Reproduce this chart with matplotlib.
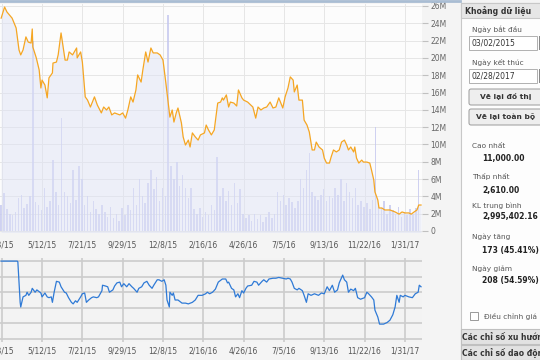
import numpy as np
import pandas as pd
import matplotlib.pyplot as plt
from matplotlib.patches import Rectangle, FancyBboxPatch

start = pd.Timestamp('2015-03-02')

# closing price (day offset from start, price)
price_day = [0, 6, 10, 19, 26, 31, 34, 38, 43, 47, 52, 54, 55, 61, 66, 69, 71, 76, 80, 83,
             89, 90, 96, 99, 104, 111, 115, 118, 124, 131, 132, 138, 141, 146, 150, 155, 162, 167, 174, 178,
             183, 187, 192, 197, 206, 211, 216, 220, 225, 229, 234, 237, 243, 246, 251, 255, 260, 264, 271, 276,
             281, 286, 290, 293, 297, 300, 304, 307, 313, 316, 320, 325, 328, 332, 337, 342, 346, 353, 356, 360,
             365, 370, 376, 381, 384, 386, 391, 395, 398, 404, 409, 412, 418, 421, 428, 437, 442, 446, 451, 456,
             461, 467, 472, 477, 482, 489, 493, 498, 502, 507, 509, 514, 517, 523, 526, 531, 535, 540, 544, 547,
             552, 558, 561, 565, 570, 573, 577, 582, 587, 591, 596, 600, 603, 607, 612, 614, 617, 621, 626, 629,
             635, 640, 643, 647, 649, 654, 656, 661, 666, 675, 684, 691, 696, 701, 708, 712, 717, 722, 725, 727, 729]
price = [10550, 11000, 10800, 10550, 10150, 9260, 9060, 9260, 9790, 9580, 9540, 10110, 9380, 8940, 8450, 7720, 8040, 7840, 7320, 8130,
         8330, 8730, 8770, 9060, 9950, 8850, 8850, 9180, 9060, 9340, 8940, 9180, 8770, 7360, 7230, 6950, 7360, 7030, 6710, 6950,
         6830, 6950, 6630, 6710, 6630, 6710, 6500, 6830, 7360, 7150, 7640, 8250, 7960, 8450, 9180, 8770, 9340, 9140, 9140, 9060,
         8850, 7920, 7110, 6540, 6830, 6340, 6710, 6910, 6300, 5740, 5410, 5610, 5330, 5900, 5740, 5610, 5820, 5900, 6220, 6020,
         5820, 6020, 7110, 7150, 7320, 7230, 7440, 6950, 7150, 7110, 6990, 7640, 7320, 7230, 7150, 6950, 6500, 6950, 6830, 6910,
         6950, 7150, 6910, 6950, 7320, 6910, 7360, 7720, 8170, 8040, 7560, 7840, 7230, 7230, 6420, 6220, 5940, 5210, 5210, 5530,
         5330, 5210, 4880, 4680, 4680, 4930, 5210, 5130, 5210, 5530, 5610, 5410, 5210, 5330, 5130, 5330, 4880, 4680, 4800, 4720,
         4720, 4680, 4400, 3990, 3510, 3180, 2860, 2860, 2780, 2780, 2700, 2610, 2700, 2660, 2660, 2610, 2700, 2780, 2980, 2980, 2980]

# volume in millions, sampled every 5 days
vol_day = np.arange(0, 730, 5)
volume = [3.0, 4.4, 2.5, 2.0, 1.8, 2.2, 3.8, 4.2, 2.6, 3.1, 4.0, 22.0, 3.3, 3.0, 2.4, 5.0, 2.8, 3.5, 8.2, 4.5,
          3.0, 13.0, 4.5, 4.0, 3.2, 7.0, 3.6, 7.5, 6.0, 3.0, 4.0, 2.2, 3.5, 2.5, 2.0, 3.0, 2.2, 1.6, 2.8, 1.5,
          2.0, 1.2, 2.6, 1.8, 3.0, 2.4, 5.0, 3.0, 6.0, 4.0, 3.2, 5.5, 7.0, 4.8, 6.2, 3.5, 5.0, 4.0, 25.0, 7.5,
          6.0, 8.0, 5.2, 6.5, 5.0, 3.8, 5.0, 2.5, 2.0, 2.6, 1.6, 2.2, 1.8, 3.0, 2.4, 8.5, 4.0, 5.0, 3.5, 4.6,
          3.0, 5.5, 3.2, 4.8, 2.0, 1.5, 1.8, 1.2, 2.0, 1.4, 1.8, 1.0, 1.6, 2.2, 1.5, 2.0, 4.5, 3.5, 4.2, 3.0,
          3.8, 3.4, 2.6, 3.5, 6.0, 5.0, 7.0, 9.0, 4.5, 4.0, 3.6, 4.2, 4.8, 3.5, 4.0, 3.8, 5.0, 4.2, 6.0, 3.5,
          5.5, 4.5, 3.8, 5.0, 3.0, 3.5, 2.8, 3.2, 2.5, 3.6, 12.0, 3.0, 2.6, 3.5, 2.0, 3.0, 2.4, 2.0, 2.8, 1.6,
          2.2, 1.8, 2.5, 2.0, 2.6, 7.0]

# indicator (lower panel)
ind_day = [0, 28, 29, 33, 34, 38, 43, 45, 48, 52, 54, 59, 62, 69, 71, 76, 80, 83, 87, 89,
           92, 96, 101, 104, 110, 113, 117, 122, 125, 129, 132, 138, 141, 145, 148, 152, 157, 160, 166, 169,
           175, 176, 181, 185, 188, 194, 197, 201, 206, 209, 213, 218, 222, 227, 230, 236, 239, 244, 248, 253,
           257, 262, 265, 271, 274, 279, 283, 286, 288, 292, 293, 297, 299, 302, 307, 314, 320, 325, 332, 337,
           342, 349, 355, 358, 362, 367, 372, 377, 384, 390, 393, 395, 400, 404, 407, 411, 414, 418, 421, 425,
           428, 435, 439, 444, 447, 453, 456, 461, 465, 472, 477, 482, 489, 495, 498, 502, 505, 509, 514, 517,
           523, 526, 530, 533, 538, 544, 551, 556, 561, 566, 570, 575, 579, 584, 587, 593, 596, 600, 603, 607,
           612, 615, 619, 624, 631, 635, 638, 643, 647, 649, 654, 657, 664, 670, 675, 680, 684, 687, 691, 693,
           698, 701, 708, 714, 719, 724, 726, 729]
ind = [100, 100, 99, 47, 41, 54, 56, 60, 56, 60, 65, 60, 63, 59, 54, 59, 54, 53, 54, 47,
       60, 74, 73, 67, 60, 59, 53, 47, 45, 49, 47, 54, 58, 59, 47, 50, 53, 54, 53, 54,
       62, 69, 68, 67, 60, 63, 68, 72, 73, 67, 71, 67, 71, 67, 65, 60, 65, 67, 72, 74,
       69, 65, 69, 76, 76, 74, 76, 69, 50, 41, 60, 56, 59, 50, 50, 46, 46, 45, 47, 50,
       56, 56, 58, 60, 58, 60, 64, 73, 77, 77, 72, 73, 65, 63, 54, 58, 53, 62, 59, 65,
       68, 69, 74, 73, 69, 74, 76, 73, 77, 78, 78, 79, 78, 77, 78, 77, 73, 65, 63, 65,
       62, 56, 47, 58, 56, 58, 56, 59, 58, 67, 62, 69, 60, 63, 72, 82, 76, 73, 60, 64,
       62, 65, 53, 51, 53, 60, 58, 54, 50, 37, 28, 19, 19, 21, 24, 31, 41, 56, 47, 56,
       54, 56, 54, 53, 58, 60, 69, 67]

tick_dates = ['2015-03-03', '2015-05-12', '2015-07-21', '2015-09-29', '2015-12-08', '2016-02-16',
              '2016-04-26', '2016-07-05', '2016-09-13', '2016-11-22', '2017-01-31']
tick_labels = ['3/3/15', '5/12/15', '7/21/15', '9/29/15', '12/8/15', '2/16/16',
               '4/26/16', '7/5/16', '9/13/16', '11/22/16', '1/31/17']
vol_ticks = list(range(0, 27, 2))
vol_labels = ['0'] + ['%dM' % v for v in vol_ticks[1:]]

pdates = start + pd.to_timedelta(price_day, unit='D')
vdates = start + pd.to_timedelta(vol_day, unit='D')
idates = start + pd.to_timedelta(ind_day, unit='D')
tdates = pd.to_datetime(tick_dates)
xlim = (start - pd.Timedelta(days=2), start + pd.Timedelta(days=730.7))

W, H = 540, 360


def box(x0, y0, x1, y1):
    return [x0 / W, 1 - y1 / H, (x1 - x0) / W, (y1 - y0) / H]


fig = plt.figure(figsize=(5.4, 3.6), dpi=100, facecolor='#f4f4f4')

# price + volume panel
ax = fig.add_axes(box(0, 4, 422, 232))
ax.set_facecolor('#fcfcfc')
ax.bar(vdates, volume, width=2.6, color='#c4c7ef', alpha=0.8, lw=0)
ax.set_xlim(xlim)
ax.set_ylim(-0.12, 26.23)
ax.set_xticks(tdates)
ax.set_xticklabels(tick_labels)
ax.grid(color='#e6e6e6', lw=0.7)
ax.set_axisbelow(True)
for s in ax.spines.values():
    s.set_visible(False)

axp = ax.twinx()
axp.fill_between(pdates, price, 1800, color='#dfe3f5', alpha=0.5, lw=0)
axp.plot(pdates, price, color='#f5a623', lw=0.9)
axp.set_ylim(1888, 11122)
axp.set_yticks([])
for s in axp.spines.values():
    s.set_visible(False)

# twinx moves ticks to the left, put volume ticks back on the right
ax.yaxis.tick_right()
ax.set_yticks(vol_ticks)
ax.set_yticklabels(vol_labels)
ax.tick_params(axis='y', length=4, color='#c0c0c0', labelsize=5.5, labelcolor='#666666', pad=2)
ax.tick_params(axis='x', length=0, labelsize=5.5, labelcolor='#555555', pad=6)

# indicator panel
ax2 = fig.add_axes(box(0, 258, 422, 342))
ax2.set_facecolor('#f3f3f3')
ax2.plot(idates, ind, color='#2f7ad6', lw=0.9)
ax2.set_xlim(xlim)
ax2.set_ylim(-4, 104)
ax2.set_yticks([0, 20, 40, 60, 80, 100])
ax2.set_yticklabels([])
ax2.set_xticks(tdates)
ax2.set_xticklabels(tick_labels)
ax2.grid(color='#cccccc', lw=1.2)
ax2.set_axisbelow(True)
for s in ax2.spines.values():
    s.set_visible(False)
ax2.tick_params(length=0, labelsize=5.5, labelcolor='#555555', pad=3)

# side panel
ui = fig.add_axes([0, 0, 1, 1])
ui.set_xlim(0, W)
ui.set_ylim(H, 0)
ui.axis('off')
ui.plot([0, 460], [1, 1], color='#a9bdd3', lw=2)
ui.add_patch(Rectangle((461, 3), 80, 357, fc='#fdfdfd', ec='#c8c8c8', lw=0.8))
ui.add_patch(Rectangle((461, 3), 80, 15, fc='#e6e6e6', ec='#c8c8c8', lw=0.8))
ui.text(465, 11, 'Khoảng dữ liệu', fontsize=5.6, fontweight='bold', color='#333333', va='center')

lab = dict(fontsize=5.3, color='#555555', va='center')
val = dict(fontsize=5.5, fontweight='bold', color='#222222', va='center')

ui.text(472, 29, 'Ngày bắt đầu', **lab)
ui.add_patch(Rectangle((469, 36), 68, 14, fc='white', ec='#b0b0b0', lw=0.7))
ui.add_patch(Rectangle((539, 36), 3, 14, fc='#8a8a8a', ec='none'))
ui.text(472, 43, '03/02/2015', fontsize=5.5, color='#333333', va='center')
ui.text(472, 63, 'Ngày kết thúc', **lab)
ui.add_patch(Rectangle((469, 69), 68, 14, fc='white', ec='#b0b0b0', lw=0.7))
ui.add_patch(Rectangle((539, 69), 3, 14, fc='#8a8a8a', ec='none'))
ui.text(472, 76, '02/28/2017', fontsize=5.5, color='#333333', va='center')

for y, t in [(89, 'Vẽ lại đồ thị'), (109, 'Vẽ lại toàn bộ')]:
    ui.add_patch(FancyBboxPatch((469, y), 76, 16, boxstyle='round,pad=0,rounding_size=2',
                                fc='#eeeeee', ec='#9a9a9a', lw=0.7))
    ui.text(506, y + 8, t, fontsize=5.4, fontweight='bold', color='#333333', ha='center', va='center')

stats = [('Cao nhất', '11,000.00', 146, 158),
         ('Thấp nhất', '2,610.00', 177, 190),
         ('KL trung bình', '2,995,402.16', 206, 217),
         ('Ngày tăng', '173 (45.41%)', 237, 250),
         ('Ngày giảm', '208 (54.59%)', 269, 281)]
for name, v, y1, y2 in stats:
    ui.text(472, y1, name, **lab)
    ui.text(482, y2, v, **val)

ui.add_patch(Rectangle((470, 312), 8, 8, fc='white', ec='#999999', lw=0.7))
ui.text(484, 316, 'Điều chỉnh giá', **lab)

for y, t in [(329, 'Các chỉ số xu hướng'), (345, 'Các chỉ số dao động')]:
    ui.add_patch(Rectangle((461, y), 80, 15, fc='#e2e2e2', ec='#c0c0c0', lw=0.8))
    ui.text(462, y + 8, t, fontsize=5.5, fontweight='bold', color='#333333', va='center')

fig.savefig('out.png', dpi=100, facecolor=fig.get_facecolor())
